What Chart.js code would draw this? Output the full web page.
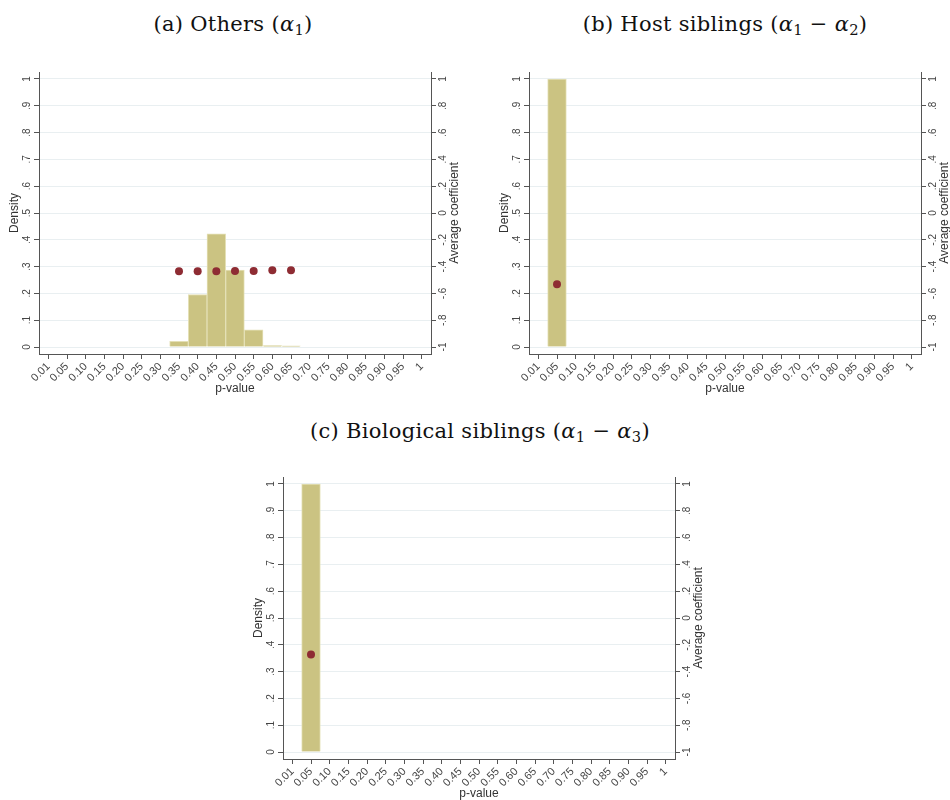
<!DOCTYPE html>
<html>
<head>
<meta charset="utf-8">
<script src="https://cdn.jsdelivr.net/npm/chart.js@4.4.0/dist/chart.umd.min.js"></script>
<style>
body { margin: 0; background: #fff; width: 950px; height: 800px; overflow: hidden; position: relative; }
.ttl { position: absolute; font-family: "DejaVu Serif", "Liberation Serif", serif; font-size: 21px; letter-spacing: 0.3px; color: #111; white-space: nowrap; transform: translateX(-50%); }
.ttl sub { font-size: 70%; vertical-align: -0.25em; line-height: 0; }
.box { position: absolute; }
</style>
</head>
<body>
<div class="ttl" style="left:233px;top:12px">(a) Others (<i>α</i><sub>1</sub>)</div>
<div class="ttl" style="left:725px;top:12px">(b) Host siblings (<i>α</i><sub>1</sub> − <i>α</i><sub>2</sub>)</div>
<div class="ttl" style="left:480px;top:419px">(c) Biological siblings (<i>α</i><sub>1</sub> − <i>α</i><sub>3</sub>)</div>

<div class="box" style="left:0px;top:60px"><canvas id="chartA" width="475" height="345"></canvas></div>
<div class="box" style="left:490px;top:60px"><canvas id="chartB" width="475" height="345"></canvas></div>
<div class="box" style="left:244px;top:465px"><canvas id="chartC" width="475" height="345"></canvas></div>

<script>
// p-value bins (x axis)
var pLabels = ["0.01", "0.05", "0.10", "0.15", "0.20", "0.25", "0.30", "0.35", "0.40", "0.45", "0.50",
               "0.55", "0.60", "0.65", "0.70", "0.75", "0.80", "0.85", "0.90", "0.95", "1"];

// left axis: density, right axis: average coefficient
var densityTicks = [0, 0.1, 0.2, 0.3, 0.4, 0.5, 0.6, 0.7, 0.8, 0.9, 1];
var densityTickLabels = ["0", ".1", ".2", ".3", ".4", ".5", ".6", ".7", ".8", ".9", "1"];
var coefTicks = [-1, -0.8, -0.6, -0.4, -0.2, 0, 0.2, 0.4, 0.6, 0.8, 1];
var coefTickLabels = ["-1", "-.8", "-.6", "-.4", "-.2", "0", ".2", ".4", ".6", ".8", "1"];

// (a) Others
var othersDensity = [null, null, null, null, null, null, null, 0.021, 0.196, 0.422, 0.287,
                     0.064, 0.005, 0.004, null, null, null, null, null, null, null];
var othersCoef = [null, null, null, null, null, null, null, -0.435, -0.435, -0.435, -0.433,
                  -0.433, -0.428, -0.428, null, null, null, null, null, null, null];

// (b) Host siblings
var hostDensity = [null, 1, null, null, null, null, null, null, null, null, null,
                   null, null, null, null, null, null, null, null, null, null];
var hostCoef = [null, -0.532, null, null, null, null, null, null, null, null, null,
                null, null, null, null, null, null, null, null, null, null];

// (c) Biological siblings
var bioDensity = [null, 1, null, null, null, null, null, null, null, null, null,
                  null, null, null, null, null, null, null, null, null, null];
var bioCoef = [null, -0.273, null, null, null, null, null, null, null, null, null,
               null, null, null, null, null, null, null, null, null, null];

var axisColor = "#555";
var labelColor = "#444";
var gridColor = "#e9eff1";
var barFill = "#cbc382";
var barEdge = "#e4e0b6";
var dotColor = "#8e2c33";
var sans = "'Liberation Sans', Arial, sans-serif";

// right axis title reads bottom to top, like the left one
var rightTitle = {
    id: "rightTitle",
    afterDraw: function(chart, args, opts) {
        var a = chart.chartArea;
        var ctx = chart.ctx;
        ctx.save();
        ctx.translate(a.right + 24, (a.top + a.bottom) / 2);
        ctx.rotate(-Math.PI / 2);
        ctx.font = "12px " + sans;
        ctx.fillStyle = "#333";
        ctx.textAlign = "center";
        ctx.textBaseline = "middle";
        ctx.fillText("Average coefficient", 0, 0);
        ctx.restore();
    }
};

function makeChart(id, density, coef) {
    var ctx = document.getElementById(id).getContext("2d");
    return new Chart(ctx, {
        data: {
            labels: pLabels,
            datasets: [{
                type: "line",
                label: "Average coefficient",
                data: coef,
                yAxisID: "y2",
                showLine: false,
                pointRadius: 4,
                pointHoverRadius: 4,
                pointBackgroundColor: dotColor,
                pointBorderWidth: 0,
                order: 0,
            }, {
                type: "bar",
                label: "Density",
                data: density,
                yAxisID: "y",
                backgroundColor: barFill,
                borderColor: barEdge,
                borderWidth: 1,
                barPercentage: 1,
                categoryPercentage: 1,
                order: 1,
            }],
        },
        options: {
            responsive: false,
            animation: false,
            events: [],
            layout: { padding: { top: 12, left: 0, right: 0, bottom: 0 } },
            plugins: {
                legend: { display: false },
                tooltip: { enabled: false },
            },
            scales: {
                x: {
                    type: "category",
                    offset: true,
                    afterFit: function(s) { s.height = 51; },
                    grid: { display: true, drawOnChartArea: false, offset: false, tickLength: 5, tickColor: axisColor },
                    border: { color: axisColor, width: 1 },
                    ticks: { minRotation: 45, maxRotation: 45, padding: 1, color: labelColor, font: { family: sans, size: 11 }, autoSkip: false },
                    title: { display: true, text: "p-value", color: "#333", font: { family: sans, size: 12 }, padding: { top: 0, bottom: 9 } },
                },
                y: {
                    position: "left",
                    min: -0.0261,
                    max: 1.0261,
                    afterFit: function(s) { s.width = 39; },
                    afterBuildTicks: function(s) { s.ticks = densityTicks.map(function(v) { return { value: v }; }); },
                    grid: { color: gridColor, tickColor: axisColor, tickLength: 5 },
                    border: { color: axisColor, width: 1 },
                    ticks: {
                        minRotation: 90, maxRotation: 90, crossAlign: "center", padding: 3,
                        color: labelColor, font: { family: sans, size: 10 },
                        callback: function(v) { return densityTickLabels[densityTicks.indexOf(Math.round(v * 10) / 10)]; },
                    },
                    title: { display: true, text: "Density", color: "#333", font: { family: sans, size: 12 }, padding: { top: 7, bottom: 0 } },
                },
                y2: {
                    position: "right",
                    min: -1.0522,
                    max: 1.0522,
                    afterFit: function(s) { s.width = 44; },
                    afterBuildTicks: function(s) { s.ticks = coefTicks.map(function(v) { return { value: v }; }); },
                    grid: { drawOnChartArea: false, tickColor: axisColor, tickLength: 5 },
                    border: { color: axisColor, width: 1 },
                    ticks: {
                        minRotation: 90, maxRotation: 90, crossAlign: "center", padding: 1,
                        color: labelColor, font: { family: sans, size: 10 },
                        callback: function(v) { return coefTickLabels[coefTicks.indexOf(Math.round(v * 10) / 10)]; },
                    },
                },
            },
        },
        plugins: [rightTitle],
    });
}

makeChart("chartA", othersDensity, othersCoef);
makeChart("chartB", hostDensity, hostCoef);
makeChart("chartC", bioDensity, bioCoef);
</script>
</body>
</html>
